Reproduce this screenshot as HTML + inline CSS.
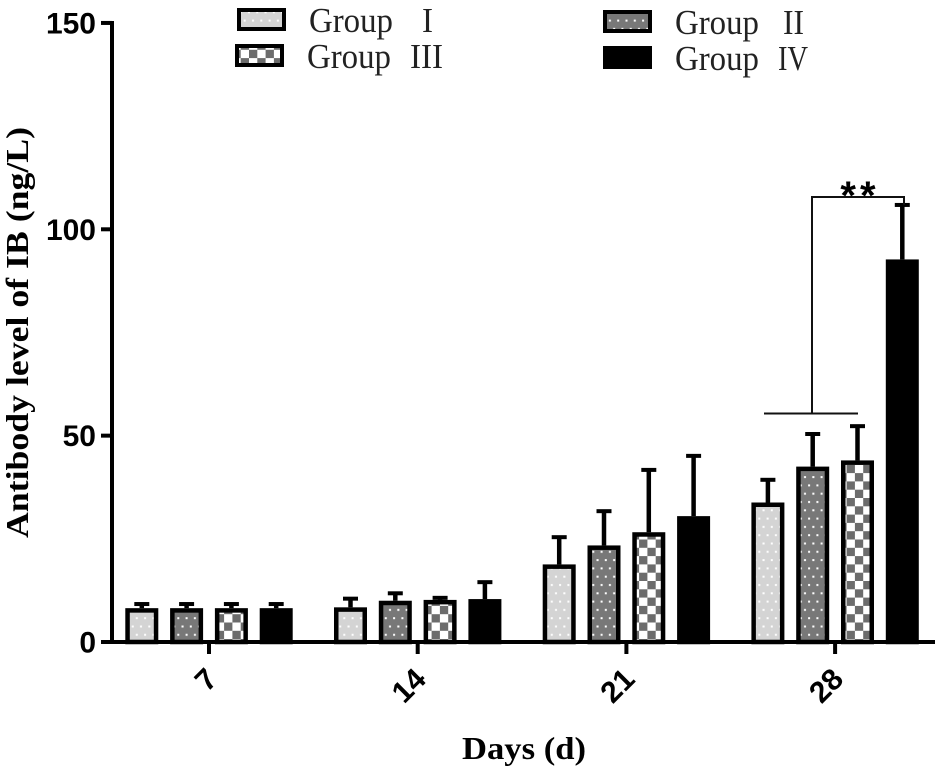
<!DOCTYPE html>
<html lang="en">
<head>
<meta charset="utf-8">
<title>Antibody level of IB</title>
<style>
html,body{margin:0;padding:0;background:#fff;}
svg{display:block;}
</style>
</head>
<body>
<svg id="chart" xmlns="http://www.w3.org/2000/svg" width="945" height="778" viewBox="0 0 945 778">
  <defs>
    <pattern id="p1" patternUnits="userSpaceOnUse" x="0" y="0" width="16.6" height="16.6">
      <rect width="16.6" height="16.6" fill="#d4d4d4"/>
      <rect x="3" y="3" width="2" height="2" fill="#fff"/>
      <rect x="11.3" y="3" width="2" height="2" fill="#fff"/>
      <rect x="7.2" y="11.3" width="2" height="2" fill="#fff"/>
      <rect x="15.5" y="11.3" width="1.1" height="2" fill="#fff"/>
      <rect x="0" y="11.3" width="1" height="2" fill="#fff"/>
    </pattern>
    <pattern id="p2" patternUnits="userSpaceOnUse" x="0" y="0" width="16.6" height="16.6">
      <rect width="16.6" height="16.6" fill="#787878"/>
      <rect x="3" y="3" width="2" height="2" fill="#fff"/>
      <rect x="11.3" y="3" width="2" height="2" fill="#fff"/>
      <rect x="7.2" y="11.3" width="2" height="2" fill="#fff"/>
      <rect x="15.5" y="11.3" width="1.1" height="2" fill="#fff"/>
      <rect x="0" y="11.3" width="1" height="2" fill="#fff"/>
    </pattern>
    <pattern id="p3" patternUnits="userSpaceOnUse" x="0" y="0" width="16.6" height="16.6">
      <rect width="16.6" height="16.6" fill="#fff"/>
      <rect x="0" y="0" width="8.3" height="8.3" fill="#6c6c6c"/>
      <rect x="8.3" y="8.3" width="8.3" height="8.3" fill="#6c6c6c"/>
    </pattern>
  </defs>
  <g id="plot"></g>

  <g font-family="'Liberation Serif','Noto Serif CJK SC',serif" font-size="35" fill="#222">
    <g>
      <rect x="239" y="10" width="45" height="19" fill="url(#p1)" stroke="#000" stroke-width="4"/>
      <text x="309" y="32" textLength="84" lengthAdjust="spacingAndGlyphs">Group</text>
      <text x="422" y="32" textLength="11" lengthAdjust="spacingAndGlyphs">I</text>
    </g>
    <g>
      <rect x="237" y="46" width="45" height="19" fill="url(#p3)" stroke="#000" stroke-width="4"/>
      <text x="307" y="68" textLength="84" lengthAdjust="spacingAndGlyphs">Group</text>
      <text x="410" y="68" textLength="33" lengthAdjust="spacingAndGlyphs">III</text>
    </g>
    <g>
      <rect x="605" y="12" width="45" height="19" fill="url(#p2)" stroke="#000" stroke-width="4"/>
      <text x="675" y="34" textLength="84" lengthAdjust="spacingAndGlyphs">Group</text>
      <text x="783" y="34" textLength="21" lengthAdjust="spacingAndGlyphs">II</text>
    </g>
    <g>
      <rect x="605" y="48" width="45" height="19" fill="#000" stroke="#000" stroke-width="4"/>
      <text x="675" y="70" textLength="84" lengthAdjust="spacingAndGlyphs">Group</text>
      <text x="778" y="70" textLength="30" lengthAdjust="spacingAndGlyphs">IV</text>
    </g>
  </g>

  <text transform="translate(28,332.5) rotate(-90)" text-anchor="middle" font-family="'Liberation Serif',serif" font-weight="bold" font-size="32" fill="#000" textLength="411" lengthAdjust="spacingAndGlyphs">Antibody level of IB (ng/L)</text>
  <text x="462" y="759" font-family="'Liberation Serif',serif" font-weight="bold" font-size="32" fill="#000" textLength="124" lengthAdjust="spacingAndGlyphs">Days (d)</text>
</svg>
<script>
const categories = ['7', '14', '21', '28'];
const yTickLabels = [0, 50, 100, 150];
const groupOneMeans = [8.2, 8.4, 18.8, 33.8];
const groupOneErrors = [1.0, 2.1, 6.6, 5.5];
const groupTwoMeans = [8.2, 10.0, 23.4, 42.5];
const groupTwoErrors = [1.0, 1.8, 8.3, 7.9];
const groupThreeMeans = [8.2, 10.2, 26.6, 44.0];
const groupThreeErrors = [1.0, 0.5, 15.1, 8.3];
const groupFourMeans = [8.2, 10.4, 30.5, 92.7];
const groupFourErrors = [1.0, 4.1, 14.6, 13.2];
const seriesMeans = [groupOneMeans, groupTwoMeans, groupThreeMeans, groupFourMeans];
const seriesErrors = [groupOneErrors, groupTwoErrors, groupThreeErrors, groupFourErrors];
const seriesNames = ['group-1', 'group-2', 'group-3', 'group-4'];
const seriesFills = ['url(#p1)', 'url(#p2)', 'url(#p3)', '#000'];

const NS = 'http://www.w3.org/2000/svg';
const plot = document.getElementById('plot');
const yScale = function (v) { return 642 - v * 4.127; };
const xTick = function (i) { return 209 + i * 208.7; };
const xBar = function (i, s) { return xTick(i) + (s - 1.5) * 44.8; };

function shape(tag, attrs) {
  const el = document.createElementNS(NS, tag);
  Object.keys(attrs).forEach(function (k) { el.setAttribute(k, attrs[k]); });
  plot.appendChild(el);
  return el;
}

seriesMeans.forEach(function (means, s) {
  means.forEach(function (value, i) {
    const cx = xBar(i, s);
    const top = yScale(value);
    const errTop = yScale(value + seriesErrors[s][i]);
    const stem = shape('line', { x1: cx, x2: cx, y1: top, y2: errTop, stroke: '#000', 'stroke-width': 4.5 });
    
    
    const cap = shape('line', { x1: cx - 7.5, x2: cx + 7.5, y1: errTop, y2: errTop, stroke: '#000', 'stroke-width': 4 });
    
    
    const bar = shape('rect', { x: cx - 14.25, y: top + 2.25, width: 28.5, height: Math.max(0, 642 - top - 2.25), fill: seriesFills[s], stroke: '#000', 'stroke-width': 4.5 });
    
    
  });
});

const yAxis = shape('line', { x1: 112, x2: 112, y1: yScale(150) - 2, y2: 644, stroke: '#000', 'stroke-width': 4 });


const xAxis = shape('line', { x1: 101, x2: 935, y1: 642, y2: 642, stroke: '#000', 'stroke-width': 4 });



yTickLabels.forEach(function (v) {
  const y = yScale(v);
  const tick = shape('line', { x1: 101, x2: 112, y1: y, y2: y, stroke: '#000', 'stroke-width': 4 });
  
  
  const label = shape('text', { x: 96, y: y + 10.5, 'text-anchor': 'end', 'font-family': "'Liberation Sans',sans-serif", 'font-weight': 'bold', 'font-size': 30, fill: '#000' });
  label.textContent = String(v);
  
  
});

categories.forEach(function (c, i) {
  const x = xTick(i);
  const tick = shape('line', { x1: x, x2: x, y1: 642, y2: 654, stroke: '#000', 'stroke-width': 4 });
  
  
  const label = shape('text', { transform: 'translate(' + (x + 10) + ',681) rotate(-45)', 'text-anchor': 'end', 'font-family': "'Liberation Sans',sans-serif", 'font-weight': 'bold', 'font-size': 30, fill: '#000' });
  label.textContent = c;
  
  
});

const groupLine = shape('line', { x1: 764, x2: 858, y1: 413.5, y2: 413.5, stroke: '#111', 'stroke-width': 2 });


const bracket = shape('path', { d: 'M812 413V197H904V205', fill: 'none', stroke: '#111', 'stroke-width': 2 });


const stars = shape('text', { x: 860, y: 209, 'text-anchor': 'middle', 'font-family': "'Liberation Sans',sans-serif", 'font-weight': 'bold', 'font-size': 40, 'letter-spacing': 4, fill: '#000' });
stars.textContent = '**';


</script>
</body>
</html>
